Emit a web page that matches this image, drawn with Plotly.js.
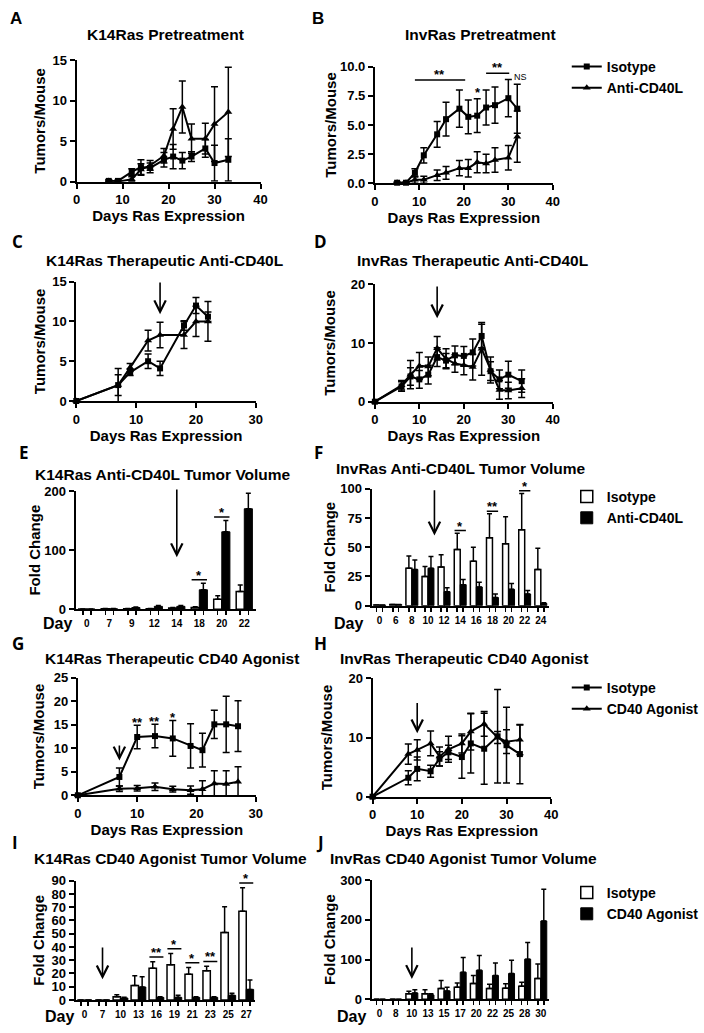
<!DOCTYPE html>
<html><head><meta charset="utf-8">
<script src="https://cdn.plot.ly/plotly-3.0.1.min.js"></script>
<style>html,body{margin:0;padding:0;background:#fff}#chart{width:704px;height:1033px}</style>
</head><body><div id="chart"></div>
<script>
// ---------------- DATA ----------------
// A: K14Ras Pretreatment
const daysA = [7, 9, 12, 14, 16, 19, 21, 23, 25, 28, 30, 33];
const isoA = [0.1, 0.1, 1.2, 1.8, 1.7, 2.7, 3.1, 2.6, 3.1, 4.1, 2.3, 2.7];
const isoAErr = [0.1, 0.1, 0.4, 0.9, 0.6, 0.9, 1.5, 1.0, 0.6, 1.1, 2.2, 2.6];
const antiA = [0.1, 0.0, 0.3, 1.5, 2.0, 3.2, 6.5, 9.2, 5.3, 5.3, 7.1, 8.6];
const antiAErr = [0.1, 0.1, 0.3, 0.7, 0.6, 0.9, 2.5, 3.2, 1.8, 1.9, 4.6, 5.5];
// B: InvRas Pretreatment
const daysB = [5, 7, 9, 11, 14, 16, 19, 21, 23, 25, 27, 30, 32];
const isoB = [0.05, 0.05, 0.9, 2.4, 4.2, 5.5, 6.4, 5.7, 5.8, 6.5, 6.7, 7.3, 6.4];
const isoBErr = [0.05, 0.05, 0.35, 0.65, 1.1, 1.45, 1.6, 1.45, 1.45, 1.5, 1.55, 1.6, 2.1];
const antiB = [0.05, 0.05, 0.3, 0.3, 0.7, 0.9, 1.3, 1.3, 1.8, 1.7, 2.0, 2.2, 4.0];
const antiBErr = [0.05, 0.05, 0.3, 0.3, 0.45, 0.55, 0.65, 0.75, 0.9, 0.8, 1.05, 1.05, 2.2];
// C: K14Ras Therapeutic Anti-CD40L
const daysC = [0, 7, 9, 12, 14, 18, 20, 22];
const isoC = [0, 2.0, 3.6, 5.0, 4.1, 9.5, 12.0, 10.6];
const isoCErr = [0, 1.3, 0.4, 0.9, 0.9, 0.6, 1.0, 0.6];
const antiC = [0, 2.0, 4.2, 7.6, 8.3, 8.3, 10.0, 10.0];
const antiCErr = [0, 2.1, 0.5, 1.3, 1.6, 1.7, 1.9, 2.5];
// D: InvRas Therapeutic Anti-CD40L
const daysD = [0, 6, 8, 10, 12, 14, 16, 18, 20, 22, 24, 26, 28, 30, 33];
const isoD = [0, 2.6, 4.3, 3.8, 4.6, 7.6, 7.0, 7.9, 7.8, 8.4, 11.2, 5.2, 3.8, 4.6, 3.5];
const isoDErr = [0, 0.8, 1.5, 1.5, 1.6, 1.6, 1.2, 1.6, 1.6, 2.3, 2.0, 1.6, 1.6, 2.3, 1.9];
const antiD = [0, 2.8, 4.6, 6.1, 6.0, 9.1, 7.3, 6.5, 6.2, 5.9, 9.0, 5.4, 2.0, 1.9, 2.3];
const antiDErr = [0, 0.8, 2.4, 2.3, 1.6, 2.0, 1.7, 1.5, 1.6, 2.2, 4.5, 2.2, 1.6, 1.4, 1.6];
// E: K14Ras Anti-CD40L Tumor Volume
const daysE = ['0', '7', '9', '12', '14', '18', '20', '22'];
const isoE = [0.5, 1, 1, 1, 2, 3, 17, 30];
const isoEErr = [0, 0.5, 0.5, 0.5, 1, 1.5, 6, 11];
const antiE = [0.5, 1, 3, 5, 5, 33, 131, 170];
const antiEErr = [0, 0.5, 1, 1.5, 1.5, 11, 19, 26];
const sigE = ['', '', '', '', '', '*', '*', '*'];
// F: InvRas Anti-CD40L Tumor Volume
const daysF = ['0', '6', '8', '10', '12', '14', '16', '18', '20', '22', '24'];
const isoF = [0.5, 1, 32, 25, 33, 48, 38, 58, 53, 65, 31];
const isoFErr = [0, 0, 10.5, 8.5, 10.5, 14, 12, 20.5, 23, 31, 18];
const antiF = [0.5, 1, 31, 32, 12, 18, 16, 7, 14, 10, 2];
const antiFErr = [0, 0, 8, 10, 3.4, 4.5, 4, 3, 5, 3, 0.5];
const sigF = ['', '', '', '', '', '*', '', '**', '', '*', ''];
// G: K14Ras Therapeutic CD40 Agonist
const daysG = [0, 7, 10, 13, 16, 19, 21, 23, 25, 27];
const isoG = [0, 3.9, 12.4, 12.6, 12.1, 10.5, 9.6, 15.1, 15.1, 14.7];
const isoGErr = [0, 1.9, 2.5, 2.5, 3.8, 4.7, 3.6, 3.0, 6.0, 5.4];
const agoG = [0, 1.4, 1.5, 1.8, 1.3, 1.1, 1.3, 2.5, 2.4, 2.9];
const agoGErr = [0, 0.6, 0.6, 0.8, 0.6, 0.9, 1.8, 2.7, 2.8, 3.2];
const sigG = ['', '', '**', '**', '*', '', '', '', '', ''];
// H: InvRas Therapeutic CD40 Agonist
const daysH = [0, 8, 10, 13, 15, 17, 20, 22, 25, 28, 30, 33];
const isoH = [0, 3.2, 4.7, 4.3, 6.4, 7.5, 6.7, 9.0, 8.1, 10.2, 8.7, 7.2];
const isoHErr = [0, 1.2, 2.0, 1.0, 1.2, 1.2, 3.6, 5.0, 6.0, 7.9, 6.4, 5.0];
const agoH = [0, 7.2, 7.9, 9.0, 6.8, 8.0, 9.0, 11.0, 12.3, 10.0, 9.3, 9.6];
const agoHErr = [0, 1.7, 1.7, 2.1, 1.6, 2.2, 1.6, 3.1, 2.1, 1.0, 2.0, 2.5];
// I: K14Ras CD40 Agonist Tumor Volume
const daysI = ['0', '7', '10', '13', '16', '19', '21', '23', '25', '27'];
const isoI = [0, 0, 2.5, 11, 24, 26.5, 19.5, 22, 51, 67];
const isoIErr = [0, 0, 1.5, 7.3, 4.8, 8.6, 5, 3.5, 19.4, 17.6];
const agoI = [0, 0, 1.5, 9.8, 2, 2, 2, 2, 3.5, 8];
const agoIErr = [0, 0, 0.5, 7.8, 0.5, 1.5, 0.5, 0.5, 1.5, 7];
const sigI = ['', '', '', '', '**', '*', '*', '**', '', '*'];
// J: InvRas CD40 Agonist Tumor Volume
const daysJ = ['0', '8', '10', '13', '15', '17', '20', '22', '25', '28', '30'];
const isoJ = [0, 0, 14, 14, 27, 30, 40, 27, 28, 33, 52];
const isoJErr = [0, 0, 6, 10, 20, 11, 20, 11, 11, 10, 37];
const agoJ = [0, 0, 16, 11, 21, 68, 73, 60, 65, 101, 197];
const agoJErr = [0, 0, 8, 3, 9, 37, 37, 31, 33, 42, 80];

const namesCD40L = ['Isotype', 'Anti-CD40L'];
const namesAgo = ['Isotype', 'CD40 Agonist'];

// ---------------- LAYOUT HELPERS ----------------
const W = 704, H = 1033;
const FF = '"Liberation Sans", Arial, sans-serif';
const FF2 = '"Open Sans", "Liberation Sans", sans-serif';
const traces = [], annotations = [], shapes = [];
const layout = {
  width: W, height: H, margin: {l: 0, r: 0, t: 0, b: 0},
  paper_bgcolor: 'white', plot_bgcolor: 'white', barmode: 'overlay',
  font: {family: FF, color: 'black'}, showlegend: true
};
const AX = {
  showline: true, linecolor: 'black', linewidth: 2, ticks: 'outside', ticklen: 5,
  tickwidth: 2, tickcolor: 'black', showgrid: false, zeroline: false, fixedrange: true,
  tickfont: {family: FF, size: 13, color: 'black', weight: 'bold'}
};
const TF = {family: FF, size: 15, color: 'black', weight: 'bold'};
const suf = n => (n === 1 ? '' : String(n));
const px = x => x / W, py = y => 1 - y / H;

function txt(x, y, text, size, family, extra) {
  annotations.push(Object.assign({
    xref: 'paper', yref: 'paper', x: px(x), y: py(y), text: text, showarrow: false,
    xanchor: 'center', yanchor: 'middle',
    font: {family: family || FF, size: size, color: 'black', weight: 'bold'}
  }, extra || {}));
}
function axes(n, g) {
  const s = suf(n);
  layout['xaxis' + s] = Object.assign({}, AX, {domain: [px(g.x0), px(g.x1)], anchor: 'y' + s, range: g.xr}, g.xo || {});
  layout['yaxis' + s] = Object.assign({}, AX, {domain: [py(g.y1), py(g.y0)], anchor: 'x' + s, range: g.yr}, g.yo || {});
}
function arrow(n, x, yHead, yTail) {
  const s = suf(n);
  annotations.push({
    xref: 'x' + s, yref: 'y' + s, axref: 'x' + s, ayref: 'y' + s,
    x: x, y: yHead, ax: x, ay: yTail, text: '', showarrow: true,
    arrowhead: 5, arrowsize: 1.4, arrowwidth: 1.6, arrowcolor: 'black', standoff: 0, startstandoff: 0
  });
}
function dataText(n, x, y, text, size, extra) {
  const s = suf(n);
  annotations.push(Object.assign({
    xref: 'x' + s, yref: 'y' + s, x: x, y: y, text: text, showarrow: false,
    xanchor: 'center', yanchor: 'middle',
    font: {family: FF, size: size || 13, color: 'black', weight: 'bold'}
  }, extra || {}));
}
function hline(n, x0, x1, y) {
  const s = suf(n);
  shapes.push({type: 'line', xref: 'x' + s, yref: 'y' + s, x0: x0, x1: x1, y0: y, y1: y,
    line: {color: 'black', width: 1.5}});
}

function linePanel(n, days, s1, e1, s2, e2, names, legendId) {
  const s = suf(n);
  const common = {type: 'scatter', mode: 'lines+markers', x: days, xaxis: 'x' + s, yaxis: 'y' + s,
    line: {color: 'black', width: 2}, cliponaxis: false,
    showlegend: !!legendId, legend: legendId || 'legend'};
  const eb = arr => ({type: 'data', array: arr, visible: true, color: 'black', thickness: 1.5, width: 3.5});
  traces.push(Object.assign({}, common, {y: s1, name: names[0], marker: {symbol: 'square', size: 6, color: 'black'}, error_y: eb(e1)}));
  traces.push(Object.assign({}, common, {y: s2, name: names[1], marker: {symbol: 'triangle-up', size: 7, color: 'black'}, error_y: eb(e2)}));
}

function barPanel(n, cats, s1, e1, s2, e2, names, legendId, w, sig, padFrac, yMax) {
  const s = suf(n);
  const idx = cats.map((c, i) => i);
  const eb = arr => ({type: 'data', symmetric: false, array: arr, arrayminus: arr.map(() => 0),
    visible: true, color: 'black', thickness: 1.5, width: 2.5});
  const common = {type: 'bar', x: idx, xaxis: 'x' + s, yaxis: 'y' + s, width: w, cliponaxis: false,
    showlegend: !!legendId, legend: legendId || 'legend'};
  traces.push(Object.assign({}, common, {y: s1, name: names[0], offset: -w,
    marker: {color: 'white', line: {color: 'black', width: 1.5}}, error_y: eb(e1)}));
  traces.push(Object.assign({}, common, {y: s2, name: names[1], offset: 0,
    marker: {color: 'black', line: {color: 'black', width: 1}}, error_y: eb(e2)}));
  layout['xaxis' + s].tickmode = 'array';
  layout['xaxis' + s].tickvals = idx;
  layout['xaxis' + s].ticktext = cats;
  layout['xaxis' + s].range = [-0.5, cats.length - 0.5];
  layout['xaxis' + s].ticks = '';
  layout['xaxis' + s].ticklabelstandoff = 4;
  layout['xaxis' + s].tickfont = {family: FF, size: 10, color: 'black', weight: 'bold'};
  layout['xaxis' + s].minor = {tickmode: 'array', tickvals: idx.flatMap(i => [i - w / 2, i + w / 2]),
    ticks: 'outside', ticklen: 4, tickwidth: 1.5, tickcolor: 'black', showgrid: false};
  if (sig) {
    sig.forEach((t, i) => {
      if (!t) return;
      const top = Math.max(s1[i] + e1[i], s2[i] + e2[i]);
      const ly = top + padFrac * yMax;
      hline(n, i - w * 0.95, i + w * 0.95, ly);
      dataText(n, i, ly, t, 13, {yanchor: 'bottom', yshift: -5});
    });
  }
}

// ---------------- PANELS ----------------
// A
axes(1, {x0: 77, x1: 262, y0: 60, y1: 181.7, xr: [0, 40], yr: [0, 15],
  xo: {dtick: 10, tick0: 0, title: {text: 'Days Ras Expression', font: TF, standoff: 2}},
  yo: {dtick: 5, tick0: 0, title: {text: 'Tumors/Mouse', font: TF, standoff: 3}}});
linePanel(1, daysA, isoA, isoAErr, antiA, antiAErr, namesCD40L, null);
// B
axes(2, {x0: 377, x1: 556, y0: 66.7, y1: 183.3, xr: [0, 40], yr: [0, 10],
  xo: {dtick: 10, tick0: 0, title: {text: 'Days Ras Expression', font: TF, standoff: 2}},
  yo: {dtick: 2.5, tick0: 0, tickformat: '.1f', title: {text: 'Tumors/Mouse', font: TF, standoff: 0}}});
linePanel(2, daysB, isoB, isoBErr, antiB, antiBErr, namesCD40L, 'legend');
hline(2, 9, 20.3, 8.86); dataText(2, 14.6, 8.86, '**', 13, {yanchor: 'bottom', yshift: -4});
hline(2, 25, 30.2, 9.43); dataText(2, 27.6, 9.43, '**', 13, {yanchor: 'bottom', yshift: -4});
dataText(2, 23.2, 7.75, '*', 13);
dataText(2, 32.7, 9.1, 'NS', 9, {font: {family: FF, size: 9, color: 'black', weight: 'normal'}});
// C
axes(3, {x0: 76.7, x1: 257.3, y0: 281.7, y1: 401, xr: [0, 30], yr: [0, 15],
  xo: {dtick: 10, tick0: 0, title: {text: 'Days Ras Expression', font: TF, standoff: 2}},
  yo: {dtick: 5, tick0: 0, title: {text: 'Tumors/Mouse', font: TF, standoff: 3}}});
linePanel(3, daysC, isoC, isoCErr, antiC, antiCErr, namesCD40L, null);
arrow(3, 14, 10.9, 15.1);
// D
axes(4, {x0: 377, x1: 556, y0: 284.3, y1: 401.7, xr: [0, 40], yr: [0, 20],
  xo: {dtick: 10, tick0: 0, title: {text: 'Days Ras Expression', font: TF, standoff: 2}},
  yo: {dtick: 10, tick0: 0, title: {text: 'Tumors/Mouse', font: TF, standoff: 12}}});
linePanel(4, daysD, isoD, isoDErr, antiD, antiDErr, namesCD40L, null);
arrow(4, 14, 14.2, 19.9);
// E
axes(5, {x0: 76, x1: 257, y0: 491, y1: 609.3, xr: [-0.5, 7.5], yr: [0, 200],
  yo: {dtick: 100, tick0: 0, title: {text: 'Fold Change', font: TF, standoff: 0}}});
barPanel(5, daysE, isoE, isoEErr, antiE, antiEErr, namesCD40L, null, 0.36, sigE, 0.03, 200);
arrow(5, 4, 88, 205);
// F
axes(6, {x0: 373.7, x1: 552, y0: 488.7, y1: 605.7, xr: [-0.5, 10.5], yr: [0, 100],
  yo: {dtick: 25, tick0: 0, title: {text: 'Fold Change', font: TF, standoff: 1}}});
barPanel(6, daysF, isoF, isoFErr, antiF, antiFErr, namesCD40L, 'legend2', 0.37, sigF, 0.022, 100);
arrow(6, 3.4, 60, 100);
// G
axes(7, {x0: 78.3, x1: 257.3, y0: 677.8, y1: 795.3, xr: [0, 30], yr: [0, 25],
  xo: {dtick: 10, tick0: 0, title: {text: 'Days Ras Expression', font: TF, standoff: 2}},
  yo: {dtick: 5, tick0: 0, title: {text: 'Tumors/Mouse', font: TF, standoff: 6}}});
linePanel(7, daysG, isoG, isoGErr, agoG, agoGErr, namesAgo, null);
arrow(7, 7, 7.4, 10.9);
sigG.forEach((t, i) => { if (t) dataText(7, daysG[i], isoG[i] + isoGErr[i] + 1.2, t, 13, {yshift: -3}); });
// H
axes(8, {x0: 374.7, x1: 554.3, y0: 678.3, y1: 796.7, xr: [0, 40], yr: [0, 20],
  xo: {dtick: 10, tick0: 0, title: {text: 'Days Ras Expression', font: TF, standoff: 2}},
  yo: {dtick: 10, tick0: 0, title: {text: 'Tumors/Mouse', font: TF, standoff: 12}}});
linePanel(8, daysH, isoH, isoHErr, agoH, agoHErr, namesAgo, 'legend3');
arrow(8, 10, 10.7, 16.1);
// I
axes(9, {x0: 76, x1: 256.7, y0: 880.7, y1: 1000, xr: [-0.5, 9.5], yr: [0, 90],
  yo: {dtick: 10, tick0: 0, title: {text: 'Fold Change', font: TF, standoff: 3.5}}});
barPanel(9, daysI, isoI, isoIErr, agoI, agoIErr, namesAgo, null, 0.41, sigI, 0.04, 90);
arrow(9, 1, 15.6, 40.7);
// J
axes(10, {x0: 373.7, x1: 552, y0: 880, y1: 999.3, xr: [-0.5, 10.5], yr: [0, 300],
  yo: {dtick: 100, tick0: 0, title: {text: 'Fold Change', font: TF, standoff: 1}}});
barPanel(10, daysJ, isoJ, isoJErr, agoJ, agoJErr, namesAgo, 'legend4', 0.37, null, 0, 300);
arrow(10, 2, 51, 134);

// Panel letters
[['A', 16, 18, FF], ['B', 320, 18, FF], ['C', 18, 242, FF2], ['D', 322, 242, FF2],
 ['E', 24, 452, FF2], ['F', 320, 452, FF2], ['G', 18, 643, FF2], ['H', 322, 643, FF2],
 ['I', 15, 842, FF2], ['J', 322, 842, FF2]].forEach(a => txt(a[1], a[2], a[0], 17, a[3]));
// Panel titles
[['K14Ras Pretreatment', 166.7, 35], ['InvRas Pretreatment', 483.7, 35],
 ['K14Ras Therapeutic Anti-CD40L', 165.7, 260], ['InvRas Therapeutic Anti-CD40L', 475.3, 260],
 ['K14Ras Anti-CD40L Tumor Volume', 164, 474], ['InvRas Anti-CD40L Tumor Volume', 464, 468],
 ['K14Ras Therapeutic CD40 Agonist', 173, 658], ['InvRas Therapeutic CD40 Agonist', 467, 658],
 ['K14Ras CD40 Agonist Tumor Volume', 171, 858], ['InvRas CD40 Agonist Tumor Volume', 466, 858]
].forEach(a => txt(a[1], a[2], a[0], 15.5, FF));
// "Day" labels
[[58, 623.5], [350, 623.5], [60, 1016], [354, 1016]].forEach(a => txt(a[0], a[1], 'Day', 16, FF));

const LEG = {xanchor: 'left', yanchor: 'top', bgcolor: 'rgba(0,0,0,0)', borderwidth: 0,
  font: {family: FF, size: 14, color: 'black', weight: 'bold'}, tracegroupgap: 0, itemwidth: 30, traceorder: 'normal'};
layout.legend = Object.assign({}, LEG, {x: px(570), y: py(51)});
layout.legend2 = Object.assign({}, LEG, {x: px(570), y: py(481)});
layout.legend3 = Object.assign({}, LEG, {x: px(570), y: py(672)});
layout.legend4 = Object.assign({}, LEG, {x: px(570), y: py(877)});

layout.annotations = annotations;
layout.shapes = shapes;

Plotly.newPlot('chart', traces, layout, {staticPlot: true, displayModeBar: false});
</script>
</body></html>
